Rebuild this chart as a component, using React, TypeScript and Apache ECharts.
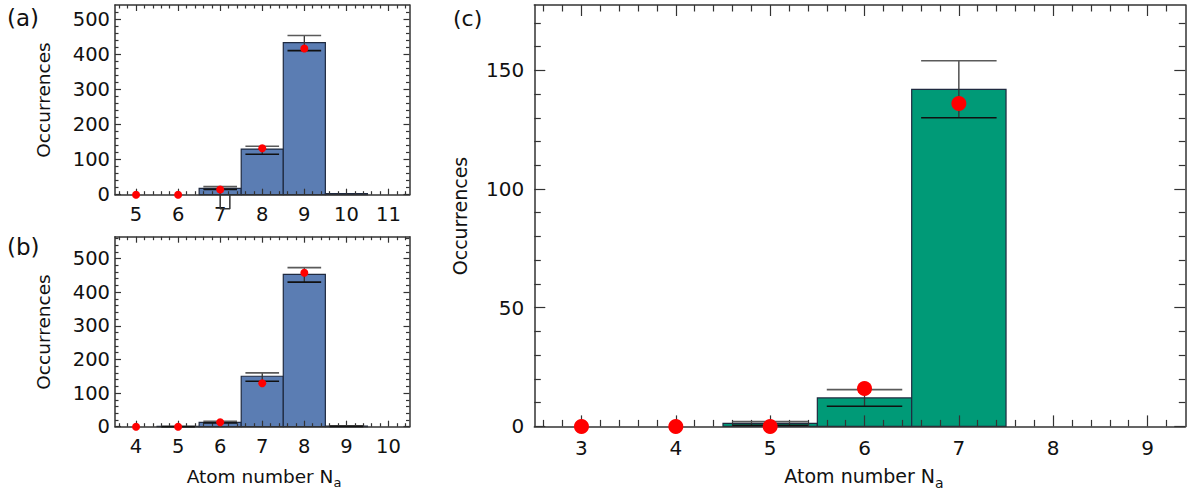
import React, { useEffect, useRef } from 'react';
import * as echarts from 'echarts';

// ---------- data ----------
const catsA = [5, 6, 7, 8, 9, 10, 11];
const barsA = [0, 0, 18, 130, 433, 3, 0];
const dotsA = [0, 0, 15, 132, 416, null, null];
const errLoA = [null, null, 15, 115, 410, null, null];
const errHiA = [null, null, 23, 138, 453, null, null];
const artifactA = [[7, 15], [7, -40], [7.23, -40], [7.23, 0]];

const catsB = [4, 5, 6, 7, 8, 9, 10];
const barsB = [0, 1, 13, 150, 453, 2, 0];
const dotsB = [0, 0, 13, 129, 458, null, null];
const errLoB = [null, 0, 11, 135, 430, 1, null];
const errHiB = [null, 1.5, 16, 160, 473, 2.5, null];

const catsC = [3, 4, 5, 6, 7, 8, 9];
const barsC = [0, 0, 1.3, 12, 142, 0, 0];
const dotsC = [0, 0, 0, 16, 136, null, null];
const errLoC = [null, null, 0.5, 8.5, 130, null, null];
const errHiC = [null, null, 2, 15.5, 154, null, null];

const yTicksAB = [0, 100, 200, 300, 400, 500];
const yTicksC = [0, 50, 100, 150];

// ---------- helpers ----------
const FONT = '"DejaVu Sans", Verdana, sans-serif';
const FRAME = '#333';

function minorTicks(min: number, max: number, step: number, majorStep: number) {
  const out: number[] = [];
  const start = Math.ceil(min / step - 1e-9) * step;
  for (let v = start; v < max - 1e-9; v += step) {
    const r = Math.round(v * 1000) / 1000;
    if (r <= min + 1e-9) continue;
    if (Math.abs(r / majorStep - Math.round(r / majorStep)) < 1e-6) continue;
    out.push(r);
  }
  return out;
}

function makeAxes(
  dim: 'x' | 'y', gi: number, min: number, max: number,
  majors: number[], minors: number[], majorLen: number, minorLen: number,
  fontSize: number, margin: number
) {
  const posA = dim === 'x' ? 'bottom' : 'left';
  const posB = dim === 'x' ? 'top' : 'right';
  const base = { type: 'value', gridIndex: gi, min, max, splitLine: { show: false }, z: 3, silent: true };
  const line = { show: true, onZero: false, lineStyle: { color: FRAME, width: 1.5 } };
  const noLine = { show: false, onZero: false };
  const tickStyle = { color: FRAME, width: 1.2 };
  const major = { show: true, inside: true, length: majorLen, customValues: majors, lineStyle: tickStyle };
  const minor = { show: true, inside: true, length: minorLen, customValues: minors, lineStyle: tickStyle };
  return [
    {
      ...base, position: posA, axisLine: line, axisTick: major,
      axisLabel: { show: true, customValues: majors, fontSize, fontFamily: FONT, color: '#111', margin },
    },
    { ...base, position: posA, axisLine: noLine, axisTick: minor, axisLabel: { show: false } },
    { ...base, position: posB, axisLine: line, axisTick: major, axisLabel: { show: false } },
    { ...base, position: posB, axisLine: noLine, axisTick: minor, axisLabel: { show: false } },
  ];
}

function barSeries(gi: number, cats: number[], vals: number[], color: string) {
  return {
    type: 'custom', xAxisIndex: gi * 4, yAxisIndex: gi * 4, z: 2,
    encode: { x: 0, y: 1 },
    data: cats.map((c, i) => [c, vals[i]]).filter((d) => d[1] > 0),
    renderItem: (_p: any, api: any) => {
      const x = api.value(0), y = api.value(1);
      const p0 = api.coord([x - 0.5, 0]);
      const p1 = api.coord([x + 0.5, y]);
      return {
        type: 'rect',
        shape: { x: p0[0], y: p1[1], width: p1[0] - p0[0], height: p0[1] - p1[1] },
        style: { fill: color, stroke: '#1f2a40', lineWidth: 1.2 },
      };
    },
  };
}

function errSeries(gi: number, cats: number[], lo: (number | null)[], hi: (number | null)[], capHalf: number) {
  return {
    type: 'custom', xAxisIndex: gi * 4, yAxisIndex: gi * 4, z: 4,
    encode: { x: 0, y: [1, 2] },
    data: cats.map((c, i) => [c, lo[i], hi[i]]).filter((d) => d[1] != null),
    renderItem: (_p: any, api: any) => {
      const x = api.value(0), l = api.value(1), h = api.value(2);
      const pH = api.coord([x, h]);
      const pL = api.coord([x, l]);
      const pE = api.coord([x + capHalf, h]);
      const hw = pE[0] - pH[0];
      return {
        type: 'group',
        children: [
          { type: 'line', shape: { x1: pH[0], y1: pH[1], x2: pL[0], y2: pL[1] }, style: { stroke: '#333', lineWidth: 1.3 } },
          { type: 'line', shape: { x1: pH[0] - hw, y1: pH[1], x2: pH[0] + hw, y2: pH[1] }, style: { stroke: '#5a5a5a', lineWidth: 1.6 } },
          { type: 'line', shape: { x1: pL[0] - hw, y1: pL[1], x2: pL[0] + hw, y2: pL[1] }, style: { stroke: '#111', lineWidth: 1.6 } },
        ],
      };
    },
  };
}

function dotSeries(gi: number, cats: number[], vals: (number | null)[], size: number) {
  return {
    type: 'scatter', xAxisIndex: gi * 4, yAxisIndex: gi * 4, z: 5, clip: false,
    symbolSize: size, itemStyle: { color: '#ff0000', opacity: 1 },
    data: cats.map((c, i) => [c, vals[i]]).filter((d) => d[1] != null),
  };
}

function txt(x: number, y: number, text: string, size: number, rot = 0, align = 'center', rich?: any) {
  return {
    type: 'text', x, y, rotation: rot, z: 10,
    style: {
      text, fontSize: size, fontFamily: FONT, font: `${size}px ${FONT}`, fill: '#111',
      align, verticalAlign: 'middle', textAlign: align, textVerticalAlign: 'middle',
      rich,
    },
  };
}

const subRich = (size: number) => ({
  sub: { fontSize: size, fontFamily: FONT, fill: '#111', padding: [13, 0, 0, 0] },
});

export default function App() {
  const ref = useRef<HTMLDivElement>(null);
  useEffect(() => {
    if (!ref.current) return;
    const chart = echarts.init(ref.current, null, { renderer: 'svg' });

    const grids = [
      { left: 115, top: 5, width: 294.5, height: 189.7 },
      { left: 115, top: 236.7, width: 294.5, height: 190 },
      { left: 534.3, top: 5, width: 651, height: 421.4 },
    ];
    const xAxes = [
      ...makeAxes('x', 0, 4.5, 11.5, catsA, minorTicks(4.5, 11.5, 0.2, 1), 6, 3.5, 19.5, 10),
      ...makeAxes('x', 1, 3.5, 10.5, catsB, minorTicks(3.5, 10.5, 0.2, 1), 6, 3.5, 19.5, 10),
      ...makeAxes('x', 2, 2.5, 9.4, catsC, minorTicks(2.5, 9.4, 0.2, 1), 11, 6.5, 20, 12),
    ];
    const yAxes = [
      ...makeAxes('y', 0, 0, 540, yTicksAB, minorTicks(0, 540, 20, 100), 6, 3.5, 19.5, 5),
      ...makeAxes('y', 1, 0, 565, yTicksAB, minorTicks(0, 565, 20, 100), 6, 3.5, 19.5, 5),
      ...makeAxes('y', 2, 0, 177.5, yTicksC, minorTicks(0, 177.5, 10, 50), 11, 6.5, 20, 10),
    ];

    const series: any[] = [
      barSeries(0, catsA, barsA, '#5b7db3'),
      errSeries(0, catsA, errLoA, errHiA, 0.4),
      dotSeries(0, catsA, dotsA, 8),
      {
        type: 'line', xAxisIndex: 0, yAxisIndex: 0, z: 4, clip: false, symbol: 'none',
        data: artifactA, lineStyle: { color: '#333', width: 1.5 }, silent: true,
      },
      barSeries(1, catsB, barsB, '#5b7db3'),
      errSeries(1, catsB, errLoB, errHiB, 0.4),
      dotSeries(1, catsB, dotsB, 8),
      barSeries(2, catsC, barsC, '#009a77'),
      errSeries(2, catsC, errLoC, errHiC, 0.4),
      dotSeries(2, catsC, dotsC, 15),
    ];

    chart.setOption({
      animation: false,
      grid: grids,
      xAxis: xAxes,
      yAxis: yAxes,
      series,
      graphic: [
        txt(7, 18, '(a)', 23, 0, 'left'),
        txt(7, 247, '(b)', 23, 0, 'left'),
        txt(453, 18, '(c)', 22, 0, 'left'),
        txt(43, 100, 'Occurrences', 18.5, Math.PI / 2),
        txt(43, 332, 'Occurrences', 18.5, Math.PI / 2),
        txt(460, 216, 'Occurrences', 19, Math.PI / 2),
        txt(264, 476, 'Atom number N{sub|a}', 18.5, 0, 'center', subRich(13)),
        txt(864, 476, 'Atom number N{sub|a}', 19, 0, 'center', subRich(14)),
      ],
    });
    return () => chart.dispose();
  }, []);
  return (
    <div
      ref={ref}
      style={{ position: 'fixed', left: 0, top: 0, width: 1194, height: 493, background: '#fff' }}
    />
  );
}
